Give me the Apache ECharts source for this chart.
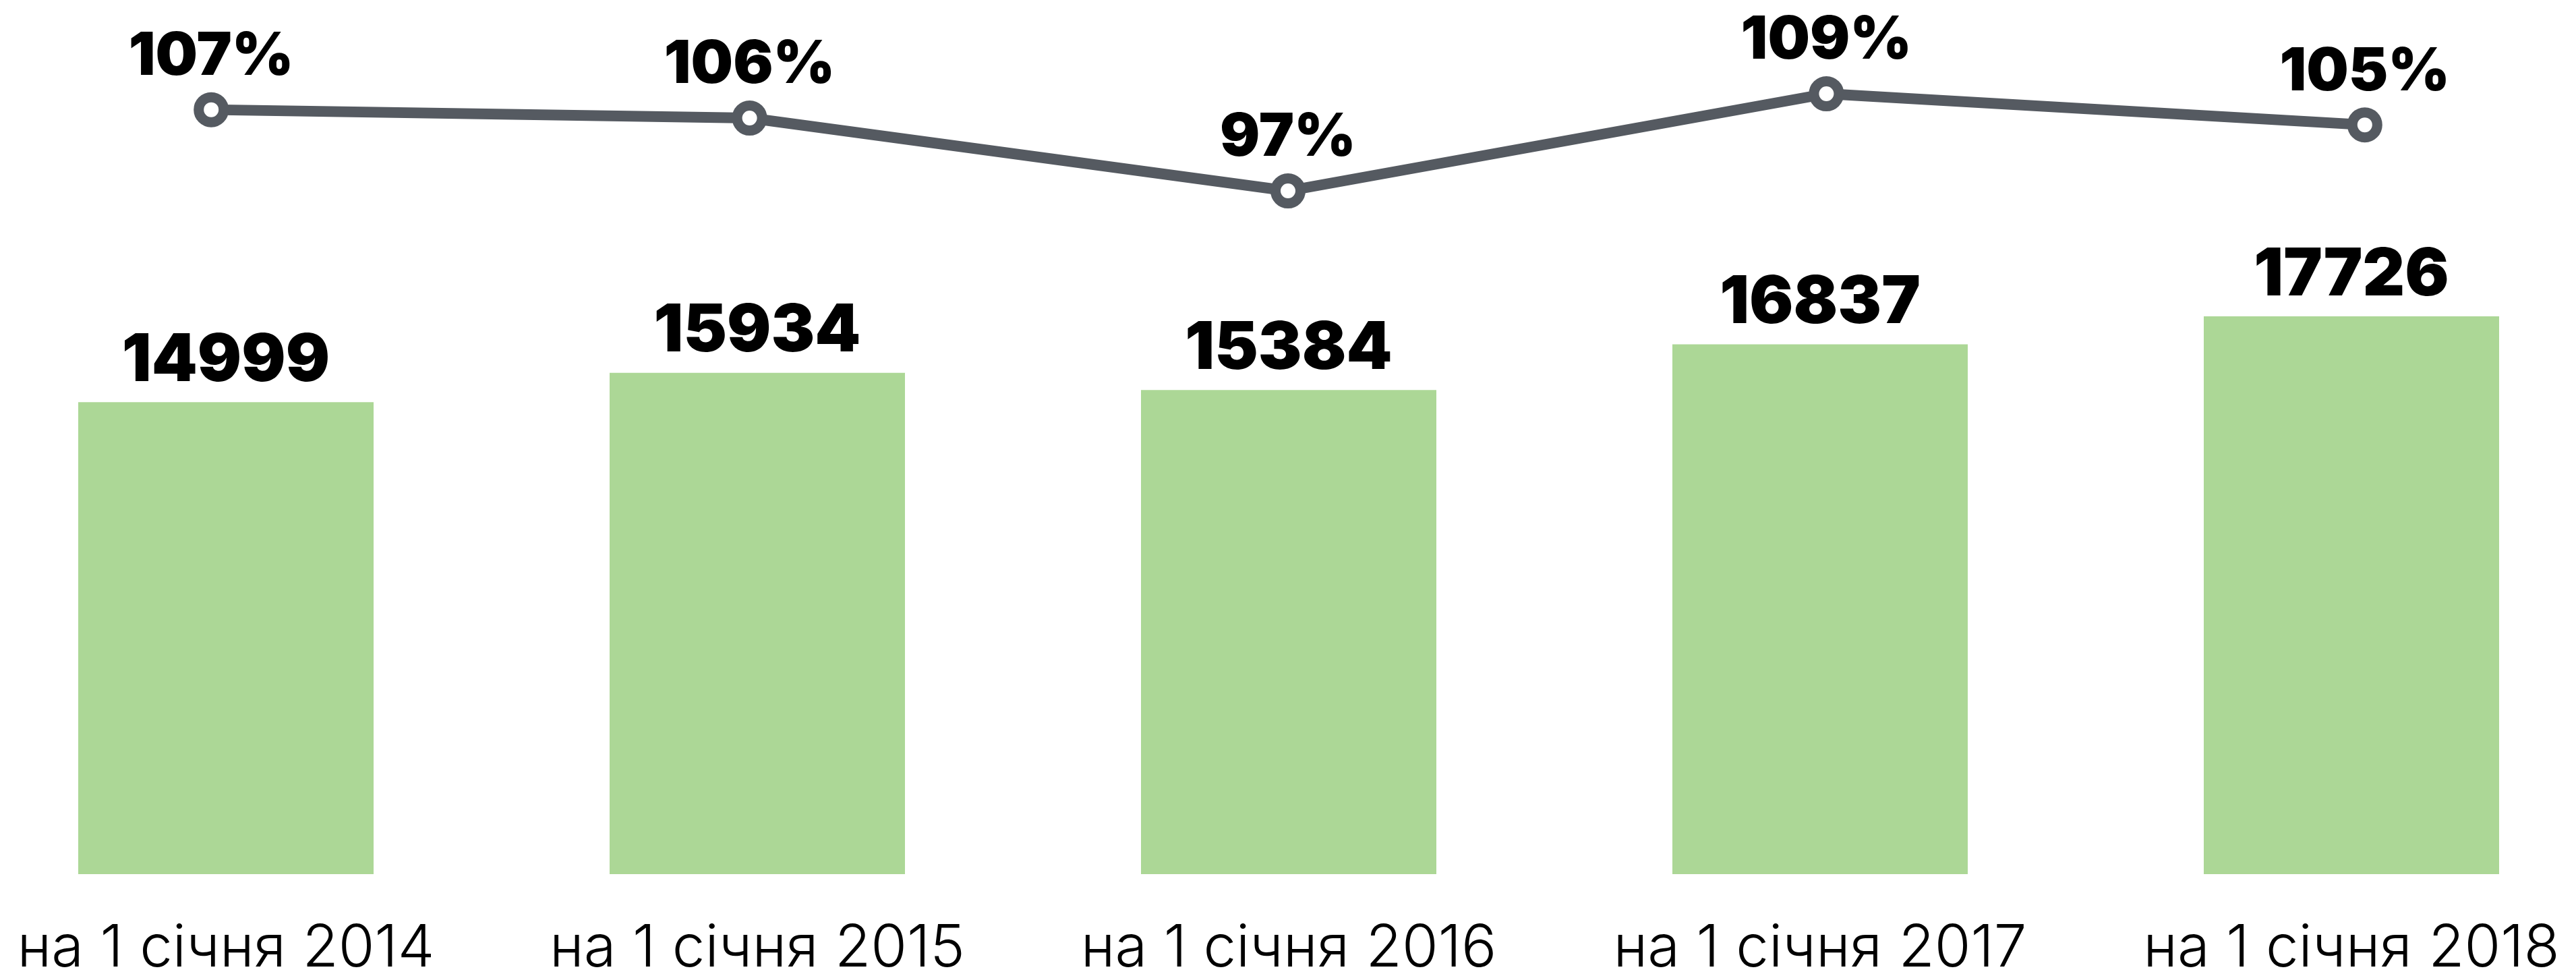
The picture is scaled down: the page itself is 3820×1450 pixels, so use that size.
<!DOCTYPE html>
<html lang="uk">
<head>
<meta charset="utf-8" />
<title>chart</title>
<script src="https://cdn.jsdelivr.net/npm/echarts@6/dist/echarts.min.js"></script>
<style>
  html, body { margin: 0; padding: 0; background: #fff; overflow: hidden; }
  /* chart is a bit wider than the window so the outer bands can bleed past the edges */
  #main { width: 4000px; height: 1450px; margin-left: -90px; }
</style>
</head>
<body>
<div id="main"></div>
<script>
// categories
var categories = ['на 1 січня 2014', 'на 1 січня 2015', 'на 1 січня 2016', 'на 1 січня 2017', 'на 1 січня 2018'];
// bar values
var counts = [14999, 15934, 15384, 16837, 17726];
// growth vs previous year, % (label shows rounded value)
var growth = [107.3, 106.2, 96.6, 109.4, 105.3];

var barColor = '#acd796';
var lineColor = '#555a61';
var fontName = 'Inter, Roboto, "DejaVu Sans", sans-serif';

var chart = echarts.init(document.getElementById('main'));
chart.setOption({
    backgroundColor: '#fff',
    animation: false,
    grid: [
        { left: 31, right: 29, top: 363, bottom: 142 },   // bars
        { left: 4, right: 4, top: 121, bottom: 1149 }     // line
    ],
    xAxis: [
        {
            type: 'category', gridIndex: 0, data: categories,
            axisLine: { show: false }, axisTick: { show: false },
            axisLabel: {
                interval: 0,
                color: '#000', fontFamily: fontName, fontWeight: 300,
                fontSize: 87, margin: 67
            }
        },
        {
            type: 'category', gridIndex: 1, data: categories,
            axisLine: { show: false }, axisTick: { show: false }, axisLabel: { show: false }
        }
    ],
    yAxis: [
        { type: 'value', gridIndex: 0, min: 0, max: 20000, show: false, splitLine: { show: false } },
        { type: 'value', gridIndex: 1, min: 95, max: 111, show: false, splitLine: { show: false } }
    ],
    series: [
        {
            name: 'кількість',
            type: 'bar',
            xAxisIndex: 0, yAxisIndex: 0,
            data: counts,
            barWidth: 438,
            itemStyle: { color: barColor },
            label: {
                show: true, position: 'top', distance: 12,
                color: '#000', fontFamily: fontName, fontWeight: 900, fontSize: 97
            }
        },
        {
            name: 'темп',
            type: 'line',
            xAxisIndex: 1, yAxisIndex: 1,
            data: growth,
            symbol: 'circle',
            symbolSize: 37,
            lineStyle: { color: lineColor, width: 16 },
            itemStyle: { color: '#fff', borderColor: lineColor, borderWidth: 15 },
            label: {
                show: true, position: 'top', distance: 8,
                color: '#000', fontFamily: fontName, fontWeight: 900, fontSize: 88,
                formatter: function (p) { return Math.round(p.value) + '%'; }
            },
            z: 5
        }
    ]
});
</script>
</body>
</html>
